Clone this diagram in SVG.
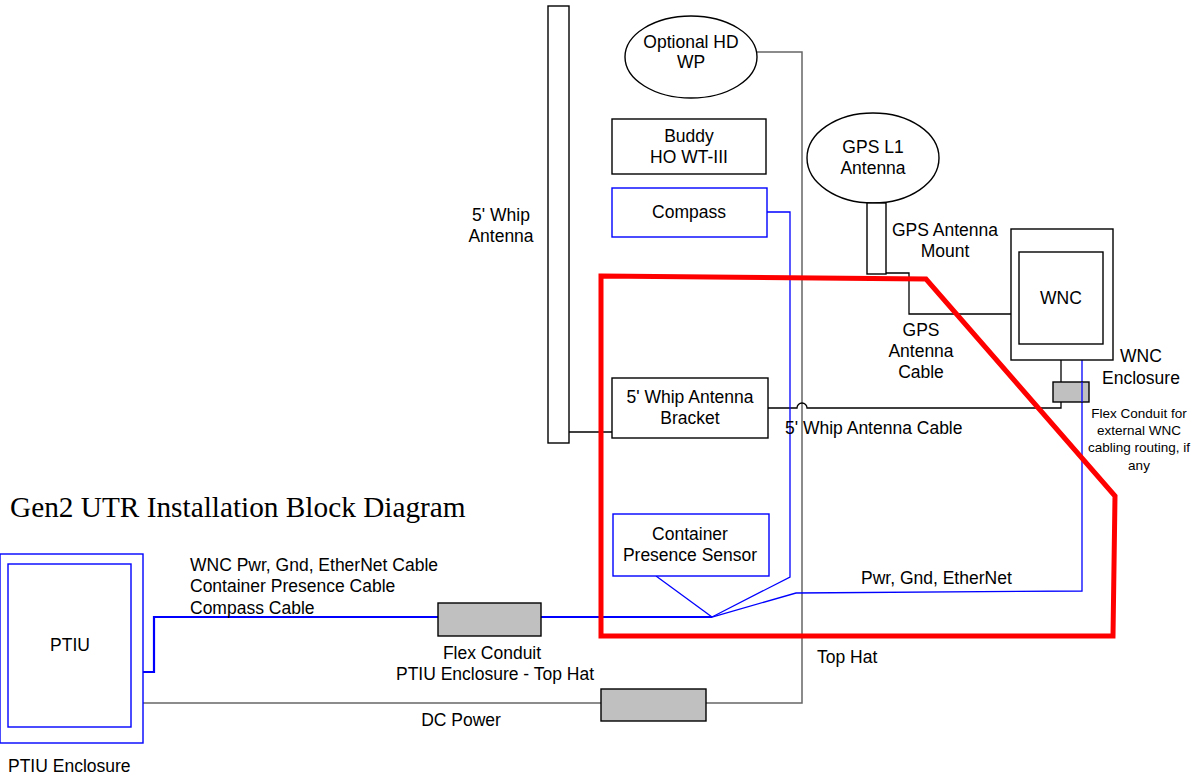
<svg xmlns="http://www.w3.org/2000/svg" width="1196" height="776" viewBox="0 0 1196 776">
<style>
text{font-family:"Liberation Sans",Arial,sans-serif;font-size:17.5px;fill:#000}
.c{text-anchor:middle}
.sm{font-size:13.5px}
.title{font-family:"Liberation Serif","Times New Roman",serif;font-size:29.3px}
.box{fill:#fff;stroke:#000;stroke-width:1.4}
.bbox{fill:#fff;stroke:#0000ff;stroke-width:1.4}
.cond{fill:#c0c0c0;stroke:#000;stroke-width:1.4}
.blk{fill:none;stroke:#000;stroke-width:1.3}
.gry{fill:none;stroke:#666;stroke-width:1.5}
.blu{fill:none;stroke:#0000ff;stroke-width:1.3}
.blu2{fill:none;stroke:#0000ff;stroke-width:2.2}
.red{fill:none;stroke:#ff0000;stroke-width:5;stroke-linejoin:miter}
</style>
<rect width="1196" height="776" fill="#fff"/>
<text class="title" x="10" y="517">Gen2 UTR Installation Block Diagram</text>

<g id="connectors">
  <polyline class="gry" points="757,52 802,52 802,703 706,703"/>
  <line class="gry" x1="131" y1="703" x2="601" y2="703"/>
  <line class="blk" x1="569" y1="432" x2="612" y2="432"/>
  <path class="blk" d="M768,408 H797 A5,5 0 0 1 807,408 H1061 V344"/>
  <polyline class="blk" points="886,273 909,273 909,314 1011,314"/>
  <polyline class="blu" points="767,212 790,212 790,577 712,617"/>
  <line class="blu" x1="656" y1="576" x2="712" y2="617"/>
  <polyline class="blu" points="712,617 796,593 1082,591 1082,345"/>
  <polyline class="blu2" points="131,672 154,672 154,617 438,617"/>
  <line class="blu2" x1="541" y1="617" x2="712" y2="617"/>
</g>

<g id="top-hat">
  <polygon class="red" points="601,276 926,279 1115,496 1113,636 601,636"/>
  <text x="817" y="663">Top Hat</text>
</g>

<g id="whip-antenna">
  <rect class="box" x="548" y="6" width="21" height="437"/>
  <text class="c" x="501" y="221">5' Whip</text>
  <text class="c" x="501" y="242">Antenna</text>
</g>

<g id="optional-hd-wp">
  <ellipse class="box" cx="691" cy="57" rx="66" ry="41"/>
  <text class="c" x="691" y="48">Optional HD</text>
  <text class="c" x="691" y="68">WP</text>
</g>

<g id="buddy">
  <rect class="box" x="612" y="119" width="154" height="55"/>
  <text class="c" x="689" y="142">Buddy</text>
  <text class="c" x="689" y="163">HO WT-III</text>
</g>

<g id="compass">
  <rect class="bbox" x="612" y="188" width="155" height="49"/>
  <text class="c" x="689" y="218">Compass</text>
</g>

<g id="whip-bracket">
  <rect class="box" x="612" y="378" width="156" height="60"/>
  <text class="c" x="690" y="403">5' Whip Antenna</text>
  <text class="c" x="690" y="424">Bracket</text>
</g>
<text x="785" y="434">5' Whip Antenna Cable</text>

<g id="container-sensor">
  <rect class="bbox" x="613" y="514" width="156" height="62"/>
  <text class="c" x="690" y="540">Container</text>
  <text class="c" x="690" y="561">Presence Sensor</text>
</g>
<text x="861" y="584">Pwr, Gnd, EtherNet</text>

<g id="gps-antenna">
  <ellipse class="box" cx="873" cy="158" rx="66" ry="45"/>
  <text class="c" x="873" y="153">GPS L1</text>
  <text class="c" x="873" y="174">Antenna</text>
</g>

<g id="gps-mount">
  <rect class="box" x="867" y="203" width="19" height="71"/>
  <text class="c" x="945" y="236">GPS Antenna</text>
  <text class="c" x="945" y="257">Mount</text>
</g>
<g id="gps-cable-label">
  <text class="c" x="921" y="336">GPS</text>
  <text class="c" x="921" y="357">Antenna</text>
  <text class="c" x="921" y="378">Cable</text>
</g>

<g id="wnc-enclosure">
  <rect class="box" x="1011" y="229" width="102" height="131"/>
  <text class="c" x="1141" y="362">WNC</text>
  <text class="c" x="1141" y="384">Enclosure</text>
</g>
<g id="wnc">
  <rect class="box" x="1019" y="252" width="84" height="92"/>
  <text class="c" x="1061" y="304">WNC</text>
</g>

<g id="wnc-conduit">
  <rect class="cond" x="1053" y="382" width="36" height="20"/>
  <line class="blu" x1="1082" y1="382" x2="1082" y2="402"/>
  <text class="c sm" x="1139" y="418">Flex Conduit for</text>
  <text class="c sm" x="1139" y="435">external WNC</text>
  <text class="c sm" x="1139" y="452">cabling routing, if</text>
  <text class="c sm" x="1139" y="470">any</text>
</g>

<g id="ptiu-enclosure">
  <rect class="bbox" x="0" y="554" width="143" height="189"/>
  <text x="8" y="772">PTIU Enclosure</text>
</g>
<g id="ptiu">
  <rect class="bbox" x="8" y="564" width="123" height="163"/>
  <text class="c" x="70" y="651">PTIU</text>
</g>

<g id="cable-labels">
  <text x="190" y="571">WNC Pwr, Gnd, EtherNet Cable</text>
  <text x="190" y="592">Container Presence Cable</text>
  <text x="190" y="614">Compass Cable</text>
</g>

<g id="flex-conduit">
  <rect class="cond" x="438" y="603" width="103" height="33"/>
  <text class="c" x="492" y="659">Flex Conduit</text>
  <text class="c" x="495" y="680">PTIU Enclosure - Top Hat</text>
</g>

<g id="dc-conduit">
  <rect class="cond" x="601" y="689" width="105" height="32"/>
  <text class="c" x="461" y="726">DC Power</text>
</g>
</svg>
